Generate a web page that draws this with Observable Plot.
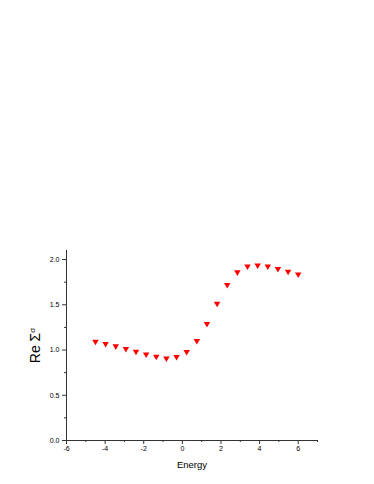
<!DOCTYPE html>
<html>
<head>
<meta charset="utf-8">
<script src="https://cdn.jsdelivr.net/npm/d3@7"></script>
<script src="https://cdn.jsdelivr.net/npm/@observablehq/plot@0.6"></script>
<style>
  html, body { margin: 0; padding: 0; background: #fff; }
  #chart { width: 374px; height: 484px; }
</style>
</head>
<body>
<div id="chart"></div>
<script>
const energy = [-4.5, -3.975, -3.45, -2.925, -2.4, -1.875, -1.35, -0.825, -0.3, 0.225,
                0.75, 1.275, 1.8, 2.325, 2.85, 3.375, 3.9, 4.425, 4.95, 5.475, 6.0];
const reSigma = [1.094, 1.068, 1.042, 1.013, 0.983, 0.953, 0.928, 0.909, 0.925, 0.980,
                 1.102, 1.289, 1.514, 1.720, 1.860, 1.926, 1.937, 1.926, 1.897, 1.867, 1.837];
const xMajor = [-6, -4, -2, 0, 2, 4, 6];
const xMinor = [-5, -3, -1, 1, 3, 5, 7];
const yMajor = [0, 0.5, 1.0, 1.5, 2.0];
const yMinor = [0.25, 0.75, 1.25, 1.75];
const xDomain = [-6, 7];
const yDomain = [0, 2.1];

const data = energy.map((e, i) => ({e, v: reSigma[i]}));
const font = "'Liberation Sans', Arial, sans-serif";

const chart = Plot.plot({
  width: 374,
  height: 484,
  marginLeft: 66,
  marginRight: 57,
  marginTop: 250,
  marginBottom: 44,
  style: {fontFamily: font, background: "#fff", color: "#000"},
  x: {domain: xDomain, axis: null},
  y: {domain: yDomain, axis: null},
  marks: [
    Plot.axisX(xMajor, {anchor: "bottom", tickSize: 4, tickPadding: 2, fontSize: 7,
      tickFormat: d => String(d), label: "Energy", labelAnchor: "center", labelOffset: 27,
      labelArrow: "none", stroke: "#333"}),
    Plot.axisX(xMinor, {anchor: "bottom", tickSize: 2, tickFormat: () => "", label: null, stroke: "#333"}),
    Plot.axisY(yMajor, {anchor: "left", tickSize: 4, tickPadding: 3, fontSize: 7,
      tickFormat: d => d.toFixed(1), label: "Re Σσ", labelAnchor: "center", labelOffset: 36,
      labelArrow: "none", stroke: "#333"}),
    Plot.axisY(yMinor, {anchor: "left", tickSize: 2, tickFormat: () => "", label: null, stroke: "#333"}),
    Plot.ruleY([0], {x1: xDomain[0], x2: xDomain[1], stroke: "#333", strokeWidth: 1}),
    Plot.ruleX([xDomain[0]], {y1: yDomain[0], y2: yDomain[1], stroke: "#333", strokeWidth: 1}),
    Plot.dot(data, {x: "e", y: "v", symbol: "triangle", rotate: 180, r: 2.4, fill: "#ff0000", stroke: "none"})
  ]
});

document.getElementById("chart").appendChild(chart);

// style axis labels: larger fonts, superscript sigma
const svg = d3.select(chart);
svg.selectAll('[aria-label="y-axis label"] text').each(function() {
  const t = d3.select(this);
  t.text(null).attr("font-size", 14);
  t.append("tspan").text("Re Σ");
  t.append("tspan").attr("font-size", 8).attr("dy", "-0.7em").text("σ");
});
svg.selectAll('[aria-label="x-axis label"] text').attr("font-size", 9.5);
</script>
</body>
</html>
